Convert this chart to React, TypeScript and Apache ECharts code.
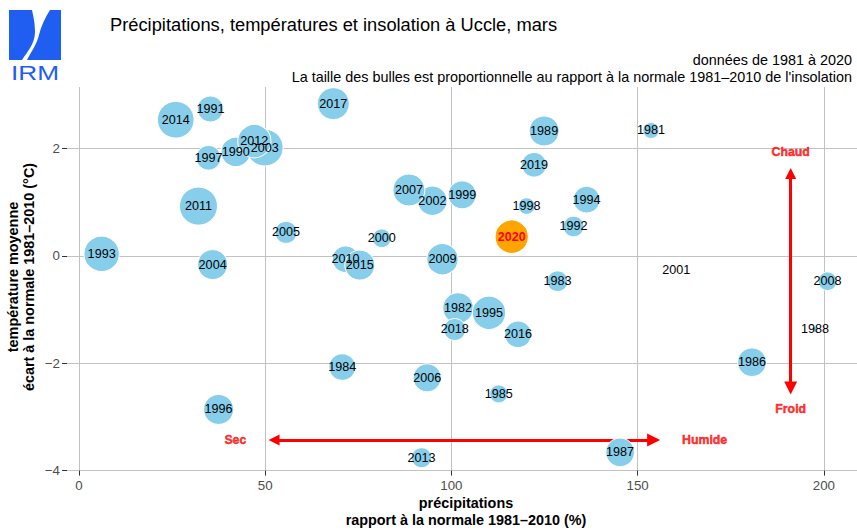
import React, { useEffect, useRef } from 'react';
import * as echarts from 'echarts';

// ---- data ----
const years = [1981, 1982, 1983, 1984, 1985, 1986, 1987, 1988, 1989, 1990,
  1991, 1992, 1993, 1994, 1995, 1996, 1997, 1998, 1999, 2000,
  2001, 2002, 2003, 2004, 2005, 2006, 2007, 2008, 2009, 2010,
  2011, 2012, 2013, 2014, 2015, 2016, 2017, 2018, 2019, 2020];
// précipitations, rapport à la normale (%)
const precip = [153.6, 101.8, 128.5, 70.7, 112.7, 180.7, 145.3, 197.6, 124.9, 42.1,
  35.3, 132.8, 6.1, 136.3, 110.1, 37.5, 34.8, 120.2, 102.9, 81.3,
  160.4, 94.9, 49.9, 35.9, 55.6, 93.5, 88.6, 201.0, 97.6, 71.6,
  32.1, 47.1, 92.0, 26.0, 75.4, 117.9, 68.3, 100.9, 122.2, 116.2];
// température moyenne, écart à la normale (°C)
const temp = [2.34, -0.97, -0.47, -2.07, -2.57, -1.98, -3.66, -1.37, 2.33, 1.94,
  2.74, 0.55, 0.04, 1.05, -1.06, -2.86, 1.83, 0.93, 1.14, 0.33,
  -0.27, 1.03, 2.02, -0.16, 0.44, -2.27, 1.23, -0.47, -0.06, -0.06,
  0.93, 2.14, -3.76, 2.54, -0.17, -1.46, 2.84, -1.37, 1.70, 0.36];
// insolation, rapport à la normale (%)
const sun = [88, 132, 102, 120, 94, 126, 126, 58, 130, 128,
  118, 102, 146, 120, 140, 130, 114, 90, 124, 96,
  41, 128, 150, 130, 106, 124, 136, 96, 134, 120,
  154, 140, 100, 150, 130, 120, 136, 106, 114, 140];

const xTicks = [0, 50, 100, 150, 200];
const yTicks = [-4, -2, 0, 2];

const arrowDry = [[52.4, -3.43], [154.3, -3.43]];
const arrowWarm = [[191.1, 1.54], [191.1, -2.46]];
const noteNames = ['Sec', 'Humide', 'Chaud', 'Froid'];
const noteX = [42, 168, 191.1, 191.1];
const noteY = [-3.43, -3.43, 1.94, -2.86];

const highlightYear = 2020;

const FONT = "'Liberation Sans', Arial, Helvetica, sans-serif";

const LOGO_D = 'M23 0 L41 0 C36 8 32 16 30 25 C28 34 22 42 18 50 L13 50 C18 42 26 34 26 22 C26 12 24 5 23 0 Z';
let registered = false;

export default function App() {
  const ref = useRef<HTMLDivElement>(null);

  useEffect(() => {
    if (!ref.current) return;
    if (!registered) {
      echarts.graphic.registerShape('irmwave', echarts.graphic.extendPath(LOGO_D, {}));
      registered = true;
    }
    const chart = echarts.init(ref.current, undefined, { renderer: 'svg' });

    const bubbleData = years.map((yr, i) => {
      const hl = yr === highlightYear;
      return {
        value: [precip[i], temp[i], sun[i], yr],
        itemStyle: hl ? { color: '#FFA500' } : undefined,
        label: hl ? { color: '#FF0000', fontWeight: 'bold' } : undefined,
      };
    });

    const noteData = noteNames.map((n, i) => ({ value: [noteX[i], noteY[i]], name: n }));

    const option: any = {
      animation: false,
      textStyle: { fontFamily: FONT },
      grid: { left: 67, right: 0, top: 87, bottom: 59.4, containLabel: false },
      xAxis: {
        type: 'value',
        min: -3.2,
        max: 208.9,
        axisLine: { show: false, onZero: false },
        axisTick: { show: true, customValues: xTicks, length: 5, lineStyle: { color: '#333333' } },
        axisLabel: { customValues: xTicks, fontSize: 13.3, color: '#4d4d4d', margin: 8, fontFamily: FONT },
        splitLine: { show: true, lineStyle: { color: '#c2c2c2', width: 1 } },
      },
      yAxis: {
        type: 'value',
        min: -4,
        max: 3.15,
        axisLine: { show: false, onZero: false },
        axisTick: { show: true, customValues: yTicks, length: 5, lineStyle: { color: '#333333' } },
        axisLabel: {
          customValues: yTicks, fontSize: 13.3, color: '#4d4d4d', margin: 7, fontFamily: FONT,
          formatter: (v: number) => (v < 0 ? '\u2212' + Math.abs(v) : String(v)),
        },
        splitLine: { show: true, lineStyle: { color: '#c2c2c2', width: 1 } },
      },
      series: [
        {
          type: 'scatter',
          data: bubbleData,
          symbolSize: (v: number[]) => Math.max(0.5, (v[2] - 40) / 3),
          itemStyle: { color: '#87CEEB', borderColor: '#ffffff', borderWidth: 1, opacity: 1 },
          label: {
            show: true,
            position: 'inside',
            formatter: (p: any) => String(p.value[3]),
            fontSize: 12.6,
            color: '#000000',
            fontFamily: FONT,
          },
          emphasis: { disabled: true },
          z: 3,
        },
        {
          type: 'lines',
          coordinateSystem: 'cartesian2d',
          polyline: false,
          symbol: ['triangle', 'triangle'],
          symbolSize: [11, 13],
          lineStyle: { color: '#FF0000', width: 3, opacity: 1, curveness: 0 },
          data: [{ coords: arrowDry }, { coords: arrowWarm }],
          silent: true,
          z: 2,
        },
        {
          type: 'scatter',
          data: noteData,
          symbolSize: 0,
          label: {
            show: true,
            position: 'inside',
            formatter: (p: any) => p.name,
            fontSize: 12.3,
            fontWeight: 'bold',
            color: '#FF0000',
            textBorderColor: '#FF0000',
            textBorderWidth: 0.5,
            fontFamily: FONT,
          },
          silent: true,
          z: 4,
        },
      ],
      graphic: [
        {
          type: 'group',
          x: 9,
          y: 10,
          children: [
            { type: 'rect', shape: { x: 0, y: 0, width: 52, height: 50 }, style: { fill: '#1f5ef0' } },
            { type: 'irmwave', x: 0, y: 0, scaleX: 1, scaleY: 1, style: { fill: '#ffffff' } },
            {
              type: 'text', x: 26, y: 62, scaleX: 1.25,
              style: { text: 'IRM', fill: '#1f5ef0', fontSize: 21, fontFamily: FONT, align: 'center', verticalAlign: 'middle' },
            },
          ],
        },
        {
          type: 'text', x: 110, y: 24,
          style: { text: 'Précipitations, températures et insolation à Uccle, mars', fill: '#000', fontSize: 18.3, fontFamily: FONT, align: 'left', verticalAlign: 'middle' },
        },
        {
          type: 'text', x: 852, y: 60,
          style: { text: 'données de 1981 à 2020', fill: '#000', fontSize: 14.4, fontFamily: FONT, align: 'right', verticalAlign: 'middle' },
        },
        {
          type: 'text', x: 852, y: 77,
          style: { text: "La taille des bulles est proportionnelle au rapport à la normale 1981\u20132010 de l'insolation", fill: '#000', fontSize: 14.4, fontFamily: FONT, align: 'right', verticalAlign: 'middle' },
        },
        {
          type: 'text', x: 466, y: 503,
          style: { text: 'précipitations', fill: '#000', fontSize: 14.4, fontWeight: 'bold', fontFamily: FONT, align: 'center', verticalAlign: 'middle' },
        },
        {
          type: 'text', x: 466, y: 520,
          style: { text: 'rapport à la normale 1981\u20132010 (%)', fill: '#000', fontSize: 14.4, fontWeight: 'bold', fontFamily: FONT, align: 'center', verticalAlign: 'middle' },
        },
        {
          type: 'text', x: 13, y: 277, rotation: Math.PI / 2,
          style: { text: 'température moyenne', fill: '#000', fontSize: 14.4, fontWeight: 'bold', fontFamily: FONT, align: 'center', verticalAlign: 'middle' },
        },
        {
          type: 'text', x: 29, y: 277, rotation: Math.PI / 2,
          style: { text: 'écart à la normale 1981\u20132010 (°C)', fill: '#000', fontSize: 14.4, fontWeight: 'bold', fontFamily: FONT, align: 'center', verticalAlign: 'middle' },
        },
      ],
    };

    chart.setOption(option);
    return () => chart.dispose();
  }, []);

  return (
    <div
      ref={ref}
      style={{ position: 'fixed', left: 0, top: 0, width: 857, height: 530, background: '#ffffff' }}
    />
  );
}
